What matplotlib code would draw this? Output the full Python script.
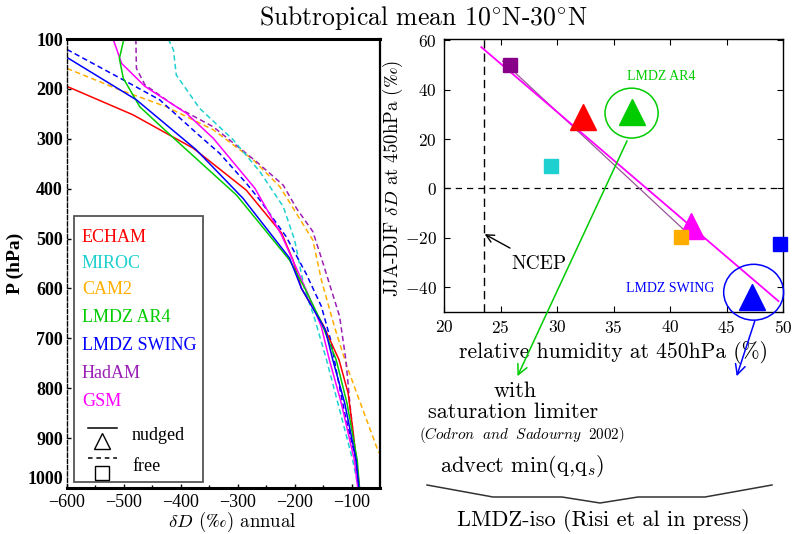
import matplotlib
matplotlib.use('Agg')
import matplotlib.pyplot as plt
from matplotlib.patches import Ellipse, Rectangle
from matplotlib.lines import Line2D

plt.rcParams['mathtext.fontset'] = 'cm'
plt.rcParams['axes.formatter.use_mathtext'] = True

CM = ['cmr10', 'DejaVu Serif']
TIMES = ['Liberation Serif', 'DejaVu Serif']
PERMIL = r'$\mathrm{‰}$'

# ---------------- data: vertical profiles (left panel) ----------------
models = ['ECHAM', 'MIROC', 'CAM2', 'LMDZ AR4', 'LMDZ SWING', 'HadAM', 'GSM']
colors = {'ECHAM': '#ff0000', 'MIROC': '#1ed0d0', 'CAM2': '#ffae00',
          'LMDZ AR4': '#00cc00', 'LMDZ SWING': '#0000ff', 'HadAM': '#9b1fb5',
          'GSM': '#ff00ff'}

echam_p = [195, 252, 319, 403, 489, 543, 600, 673, 743, 810, 890, 1000]
echam_dD = [-600, -484, -378, -285, -223, -203, -188, -150, -122, -106, -97, -86]

swing_p = [137, 222, 322, 419, 539, 600, 683, 743, 830, 944, 1000]
swing_dD = [-600, -478, -373, -291, -209, -188, -146, -133, -112, -92, -87]

ar4_p = [100, 139, 179, 236, 292, 352, 413, 543, 600, 663, 743, 830, 944, 1000]
ar4_dD = [-500, -508, -501, -472, -419, -361, -302, -209, -182, -155, -127, -108, -90, -86]

gsm_p = [100, 149, 195, 249, 299, 399, 493, 610, 677, 743, 830, 944, 1000]
gsm_dD = [-519, -504, -463, -390, -343, -270, -223, -177, -153, -139, -118, -95, -89]

hadam_p = [100, 159, 192, 236, 276, 346, 393, 439, 486, 539, 656, 743, 830, 944, 1000]
hadam_dD = [-479, -478, -463, -408, -343, -267, -220, -197, -168, -153, -121, -110, -103, -92, -88]

miroc_p = [100, 122, 172, 239, 302, 366, 436, 503, 600, 656, 743, 830, 944, 1000]
miroc_dD = [-422, -413, -408, -367, -308, -261, -220, -200, -183, -166, -144, -124, -98, -88]

cam2_p = [159, 202, 236, 282, 342, 396, 503, 583, 677, 760, 930]
cam2_dD = [-600, -507, -425, -343, -273, -226, -168, -153, -130, -107, -52]

swingfree_p = [121, 182, 222, 289, 329, 389, 423, 496, 570, 636, 706, 763, 850, 944, 1000]
swingfree_dD = [-600, -501, -437, -372, -332, -285, -261, -215, -180, -153, -136, -127, -112, -92, -87]

# (model, pressures, values, run type)
profiles = [
    ('CAM2', cam2_p, cam2_dD, 'free'),
    ('HadAM', hadam_p, hadam_dD, 'free'),
    ('MIROC', miroc_p, miroc_dD, 'free'),
    ('LMDZ SWING', swingfree_p, swingfree_dD, 'free'),
    ('ECHAM', echam_p, echam_dD, 'nudged'),
    ('GSM', gsm_p, gsm_dD, 'nudged'),
    ('LMDZ AR4', ar4_p, ar4_dD, 'nudged'),
    ('LMDZ SWING', swing_p, swing_dD, 'nudged'),
]

# ---------------- data: scatter (right panel) ----------------
pt_model = ['HadAM', 'ECHAM', 'LMDZ AR4', 'MIROC', 'GSM', 'CAM2', 'LMDZ SWING', 'LMDZ SWING']
pt_rh = [25.8, 32.3, 36.6, 29.5, 41.9, 41.0, 49.7, 47.3]
pt_dD = [50, 29, 31, 9, -15, -19.5, -22.5, -44]
pt_mode = ['free', 'nudged', 'nudged', 'free', 'nudged', 'free', 'free', 'nudged']
pt_colors = {'HadAM': '#880088'}

fit_rh = [23.3, 49.6]
fit_dD = [57.2, -45.6]
fit2_rh = [25.2, 42.0]
fit2_dD = [51.5, -20.0]
ncep_rh = 23.5

# ---------------- figure ----------------
W, H = 795, 534
fig = plt.figure(figsize=(W / 100, H / 100), dpi=100)


def fx(px):
    return px / W


def fy(py):
    return 1 - py / H


# ---- left panel ----
L0, L1, T0, B0 = 67, 380, 39, 488
axL = fig.add_axes([fx(L0), fy(B0), fx(L1) - fx(L0), fy(T0) - fy(B0)])
for name, p, v, mode in profiles:
    axL.plot(v, p, color=colors[name], lw=1.1,
             ls=(0, (3.5, 2.2)) if mode == 'free' else '-')
axL.set_xlim(-600, -50)
axL.set_ylim(1000, 100)
axL.set_yticks(range(100, 1001, 100))
axL.set_xticks(range(-600, -99, 100))
axL.set_xticks(range(-550, -99, 50), minor=True)
axL.set_yticklabels([str(t) for t in range(100, 1001, 100)], fontfamily=TIMES,
                    fontweight='bold', fontsize=13)
axL.set_xticklabels(['\u2212%d' % abs(t) for t in range(-600, -99, 100)],
                    fontfamily=TIMES, fontsize=13)
axL.tick_params(direction='in', length=3, width=1)
axL.tick_params(which='minor', direction='in', length=2, width=1)
axL.tick_params(axis='y', pad=3)
axL.tick_params(axis='x', pad=4)
ylabs = axL.get_yticklabels()
for lab in ylabs:
    lab.set_verticalalignment('center_baseline')
ylabs[-1].set_verticalalignment('bottom')
axL.spines['top'].set_linewidth(2.2)
axL.spines['bottom'].set_linewidth(2.2)
axL.spines['right'].set_linewidth(1.6)
axL.spines['left'].set_linewidth(1.0)
axL.spines['left'].set_linestyle((0, (3, 1.5)))
axL.set_ylabel('P (hPa)', fontfamily=TIMES, fontweight='bold', fontsize=14, labelpad=2)
fig.text(fx(232), fy(522), r'$\delta D$ (' + PERMIL + ') annual', fontfamily=CM,
         fontsize=13.5, ha='center', va='center')


def axfrac(px, py):
    return (px - L0) / (L1 - L0), (B0 - py) / (B0 - T0)


# legend box
bx0, by0 = axfrac(74, 482)
bx1, by1 = axfrac(203, 216)
axL.add_patch(Rectangle((bx0, by0), bx1 - bx0, by1 - by0, transform=axL.transAxes,
                        fill=True, fc='white', ec='#555555', lw=1.3, zorder=5))
leg_y = [237, 263, 290, 318, 346, 373, 402]
for name, yy in zip(models, leg_y):
    tx, ty = axfrac(82, yy)
    axL.text(tx, ty, name, color=colors[name], fontfamily=TIMES, fontsize=13,
             transform=axL.transAxes, va='center', ha='left', zorder=6)
# nudged / free symbols
for yline, ysym, marker, label, ls in [(428, 441, '^', 'nudged', '-'),
                                       (458, 473, 's', 'free', (0, (3, 2.5)))]:
    x0, yl = axfrac(88, yline)
    x1, _ = axfrac(117, yline)
    axL.add_line(Line2D([x0, x1], [yl, yl], transform=axL.transAxes, color='black',
                        lw=1.1, ls=ls, zorder=6))
    sx, sy = axfrac(102, ysym)
    axL.plot([sx], [sy], marker=marker, ms=12 if marker == '^' else 10, mfc='white',
             mec='black', mew=1.0, transform=axL.transAxes, zorder=6, clip_on=False)
    tx, ty = axfrac(132, (yline + ysym) / 2 + 1)
    axL.text(tx, ty, label, fontfamily=TIMES, fontsize=13, transform=axL.transAxes,
             va='center', ha='left', zorder=6)

# ---- right panel ----
R0, R1, RT, RB = 444, 783, 39, 312
axR = fig.add_axes([fx(R0), fy(RB), fx(R1) - fx(R0), fy(RT) - fy(RB)])
axR.set_xlim(20, 50)
axR.set_ylim(-50, 60.5)
axR.set_xticks(range(20, 51, 5))
axR.set_yticks(range(-40, 61, 20))
axR.tick_params(direction='in', length=4, width=0.8, top=True, right=True,
                labelsize=12.5, pad=5)
for lab in axR.get_xticklabels() + axR.get_yticklabels():
    lab.set_fontfamily(CM)
for s in axR.spines.values():
    s.set_linewidth(1.0)

axR.axhline(0, color='black', lw=0.9, ls=(0, (5, 4)))
axR.axvline(ncep_rh, color='black', lw=1.0, ls=(0, (6, 3.5)))
axR.plot(fit2_rh, fit2_dD, color='#995599', lw=0.9, zorder=2)
axR.plot(fit_rh, fit_dD, color='#ff00ff', lw=1.3, zorder=2)

for m, x, y, mode in zip(pt_model, pt_rh, pt_dD, pt_mode):
    c = pt_colors.get(m, colors[m])
    if mode == 'nudged':
        axR.plot([x], [y], marker='^', ms=19, color=c, mec=c, zorder=4, clip_on=False)
    else:
        axR.plot([x], [y], marker='s', ms=10, color=c, mec=c, zorder=4, clip_on=False)

# circles
axR.add_patch(Ellipse((36.6, 30.5), 4.7, 20.2, fill=False, ec='#00cc00', lw=1.1,
                      zorder=3, clip_on=False))
axR.add_patch(Ellipse((47.4, -42.0), 5.3, 22.6, fill=False, ec='#0000ff', lw=1.1,
                      zorder=3, clip_on=False))
axR.text(39.2, 45.5, 'LMDZ AR4', color='#00cc00', fontfamily=TIMES, fontsize=10,
         ha='center', va='center')
axR.text(40.0, -40.5, 'LMDZ SWING', color='#0000ff', fontfamily=TIMES, fontsize=10,
         ha='center', va='center')
axR.annotate('', xy=(26.5, -76.0), xytext=(36.2, 19.3), xycoords='data',
             arrowprops=dict(arrowstyle='->', color='#00cc00', lw=1.1,
                             mutation_scale=18, shrinkA=0, shrinkB=0),
             annotation_clip=False)
axR.annotate('', xy=(45.9, -76.0), xytext=(47.5, -53.7), xycoords='data',
             arrowprops=dict(arrowstyle='->', color='#0000ff', lw=1.1,
                             mutation_scale=18, shrinkA=0, shrinkB=0),
             annotation_clip=False)
axR.annotate('NCEP', xy=(ncep_rh + 0.1, -18.5), xytext=(28.4, -30.5),
             fontfamily=CM, fontsize=14, ha='center', va='center',
             arrowprops=dict(arrowstyle='->', color='black', lw=1.0,
                             mutation_scale=14, shrinkA=6, shrinkB=0,
                             relpos=(0.2, 1.0)))
axR.set_xlabel('relative humidity at 450hPa (%)', fontfamily=CM, fontsize=15.5, labelpad=4)
axR.set_ylabel(r'JJA-DJF $\delta D$ at 450hPa (' + PERMIL + ')', fontfamily=CM,
               fontsize=13.5)
axR.yaxis.set_label_coords((405 - R0) / (R1 - R0), 0.49)

# ---- title and annotations ----
fig.text(fx(423), fy(18), r'Subtropical mean 10$^{\circ}$N-30$^{\circ}$N', fontfamily=CM,
         fontsize=18.5, ha='center', va='center')
fig.text(fx(515), fy(391), 'with', fontfamily=CM, fontsize=16, ha='center', va='center')
fig.text(fx(513), fy(412), 'saturation limiter', fontfamily=CM, fontsize=16,
         ha='center', va='center')
fig.text(fx(522), fy(435), r'$\mathit{(Codron\ \ and\ \ Sadourny\ \ 2002)}$',
         fontsize=10.8, ha='center', va='center')
fig.text(fx(522), fy(467), r'advect min(q,q$_s$)', fontfamily=CM, fontsize=16,
         ha='center', va='center')
brace_px = [(427, 485), (493, 497), (562, 497), (600, 503), (638, 497), (705, 497), (772, 485)]
fig.add_artist(Line2D([fx(p[0]) for p in brace_px], [fy(p[1]) for p in brace_px],
                      color='#333333', lw=1.1))
fig.text(fx(603), fy(521), 'LMDZ-iso (Risi et al in press)', fontfamily=CM, fontsize=16,
         ha='center', va='center')

fig.savefig('out.png', dpi=100)
